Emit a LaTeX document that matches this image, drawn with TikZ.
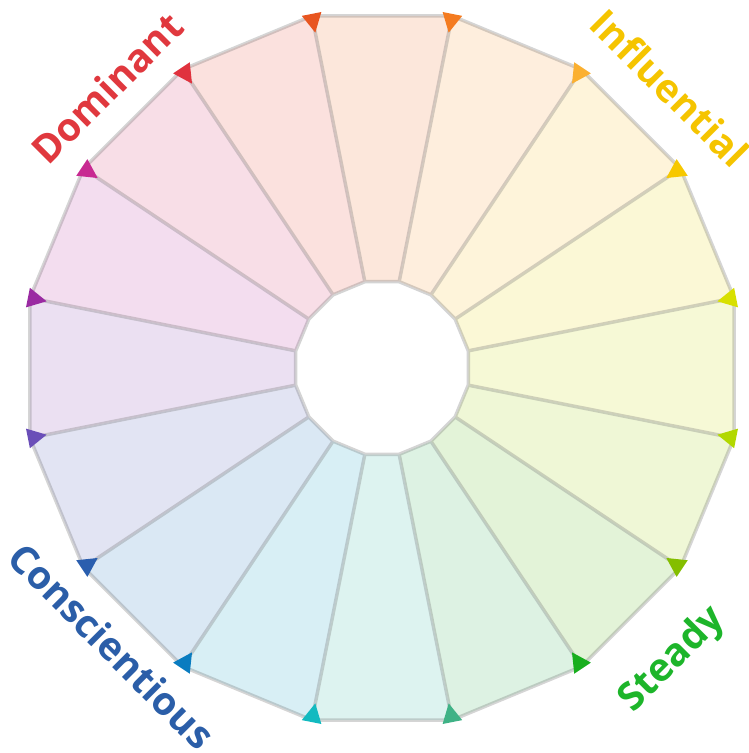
\documentclass[tikz,border=0pt]{standalone}
\usepackage{fontspec}
\setmainfont{Open Sans}

\definecolor{c1}{HTML}{E85520}
\definecolor{c2}{HTML}{F47B20}
\definecolor{c3}{HTML}{FBB030}
\definecolor{c4}{HTML}{F7C800}
\definecolor{c5}{HTML}{D8E000}
\definecolor{c6}{HTML}{B2D800}
\definecolor{c7}{HTML}{84BE00}
\definecolor{c8}{HTML}{18AE1E}
\definecolor{c9}{HTML}{3FB286}
\definecolor{c10}{HTML}{12BAC0}
\definecolor{c11}{HTML}{0A7CC0}
\definecolor{c12}{HTML}{2A5EAE}
\definecolor{c13}{HTML}{6A4EB8}
\definecolor{c14}{HTML}{9A2AA2}
\definecolor{c15}{HTML}{C82A92}
\definecolor{c16}{HTML}{E0323E}
\definecolor{dominantred}{HTML}{E0383E}
\definecolor{influentialyellow}{HTML}{F5C400}
\definecolor{steadygreen}{HTML}{1DB52A}
\definecolor{conscientiousblue}{HTML}{2B5EA8}

\tikzstyle{rim}=[draw=black!55,line width=3.5pt,line join=round]
\tikzstyle{typename}=[font=\fontsize{39}{41}\selectfont\bfseries,inner sep=0pt]

\begin{document}
\begin{tikzpicture}[x=1bp,y=1bp]
			\useasboundingbox (-382,-385) rectangle (367,368);
			\begin{scope}
				\newcommand{\outerR}{359}
				\newcommand{\innerR}{88}
				\foreach \nr in {1, ..., 16}{
					\coordinate (O\nr) at ({101.25-(\nr-1)*22.5}:\outerR);
					\coordinate (I\nr) at ({101.25-(\nr-1)*22.5}:\innerR);
				}
				\foreach \nr [evaluate=\nr as \nx using {int(mod(\nr,16)+1)}] in {1, ..., 16}{
					\fill[c\nr!50!c\nx!16!white] (I\nr) -- (O\nr) -- (O\nx) -- (I\nx) -- cycle;
				}
				\fill[white] (I1) \foreach \nr in {2, ..., 16}{ -- (I\nr)} -- cycle;
				\begin{scope}[transparency group,opacity=0.3]
					\draw[rim] (O1) \foreach \nr in {2, ..., 16}{ -- (O\nr)} -- cycle;
					\draw[rim] (I1) \foreach \nr in {2, ..., 16}{ -- (I\nr)} -- cycle;
					\foreach \nr in {1, ..., 16}{
						\draw[rim] (I\nr) -- (O\nr);
					}
				\end{scope}
				\foreach \nr in {1, ..., 16}{
					\fill[c\nr,shift={(O\nr)},rotate={101.25-(\nr-1)*22.5}] (2,-10) -- (2,10) -- (-17,0) -- cycle;
				}
			\end{scope}
			\node[typename,text=dominantred,rotate=45] (dominant) at (-275,280) {Dominant};
			\node[typename,text=influentialyellow,rotate=-45] (influential) at (288,280) {Influential};
			\node[typename,text=steadygreen,rotate=45] (steady) at (291,-292) {Steady};
			\node[typename,text=conscientiousblue,rotate=-45] (conscientious) at (-270,-278) {Conscientious};
		\end{tikzpicture}
\end{document}
